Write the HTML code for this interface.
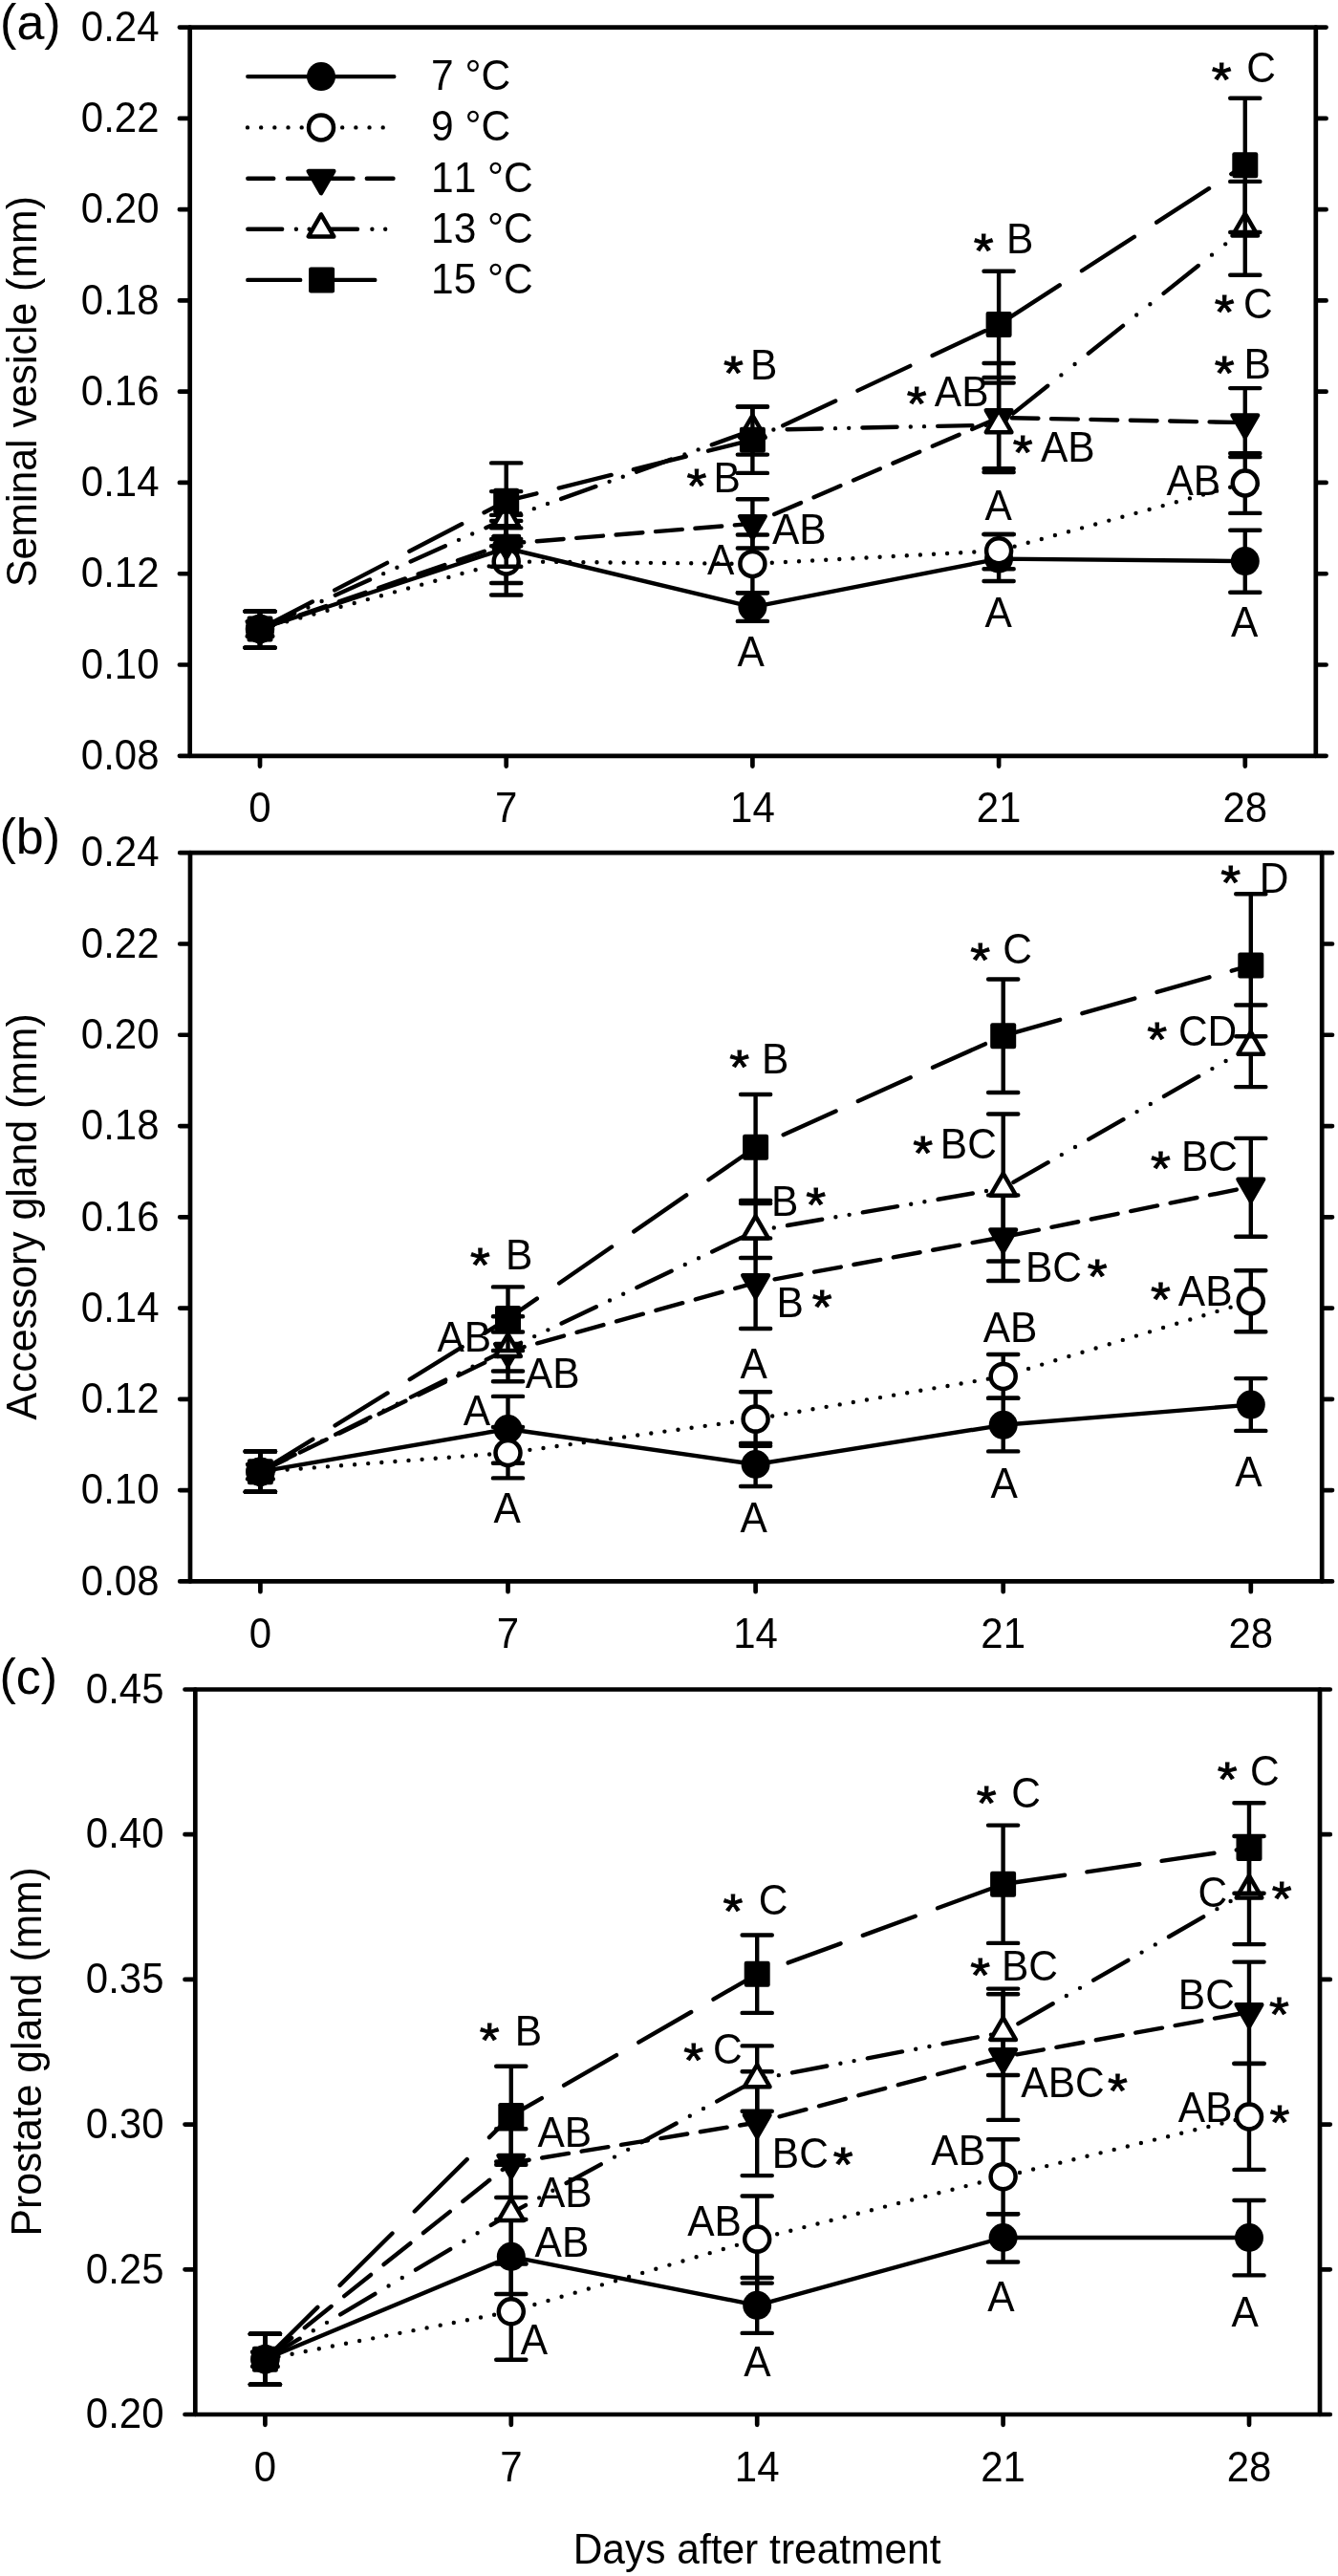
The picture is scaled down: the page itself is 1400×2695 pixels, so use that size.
<!DOCTYPE html>
<html><head><meta charset="utf-8"><title>Chart</title>
<style>html,body{margin:0;padding:0;background:#fff}svg{display:block;will-change:transform}text{font-family:"Liberation Sans",sans-serif;fill:#000;font-kerning:none;font-variant-ligatures:none}</style>
</head><body>
<svg width="1400" height="2695" viewBox="0 0 1400 2695">
<rect width="1400" height="2695" fill="#fff"/>
<g fill="none" stroke="#000" stroke-width="4.7" stroke-linecap="round">
<path d="M198.7 28.6V790.8M1376.8 28.6V790.8"/>
<path d="M187.9 28.6H1387.6M187.9 123.88H197.7M1377.8 123.88H1387.6M187.9 219.15H197.7M1377.8 219.15H1387.6M187.9 314.43H197.7M1377.8 314.43H1387.6M187.9 409.7H197.7M1377.8 409.7H1387.6M187.9 504.97H197.7M1377.8 504.97H1387.6M187.9 600.25H197.7M1377.8 600.25H1387.6M187.9 695.52H197.7M1377.8 695.52H1387.6M187.9 790.8H1387.6M272 791.8V801.6M529.7 791.8V801.6M787.4 791.8V801.6M1045.1 791.8V801.6M1302.8 791.8V801.6"/>
</g>
<text transform="translate(166.5,42.8) scale(1,1.045)" font-size="42" text-anchor="end">0.24</text>
<text transform="translate(166.5,138.07) scale(1,1.045)" font-size="42" text-anchor="end">0.22</text>
<text transform="translate(166.5,233.35) scale(1,1.045)" font-size="42" text-anchor="end">0.20</text>
<text transform="translate(166.5,328.62) scale(1,1.045)" font-size="42" text-anchor="end">0.18</text>
<text transform="translate(166.5,423.9) scale(1,1.045)" font-size="42" text-anchor="end">0.16</text>
<text transform="translate(166.5,519.17) scale(1,1.045)" font-size="42" text-anchor="end">0.14</text>
<text transform="translate(166.5,614.45) scale(1,1.045)" font-size="42" text-anchor="end">0.12</text>
<text transform="translate(166.5,709.73) scale(1,1.045)" font-size="42" text-anchor="end">0.10</text>
<text transform="translate(166.5,805) scale(1,1.045)" font-size="42" text-anchor="end">0.08</text>
<text transform="translate(272,860.4) scale(1,1.045)" font-size="42" text-anchor="middle">0</text>
<text transform="translate(529.7,860.4) scale(1,1.045)" font-size="42" text-anchor="middle">7</text>
<text transform="translate(787.4,860.4) scale(1,1.045)" font-size="42" text-anchor="middle">14</text>
<text transform="translate(1045.1,860.4) scale(1,1.045)" font-size="42" text-anchor="middle">21</text>
<text transform="translate(1302.8,860.4) scale(1,1.045)" font-size="42" text-anchor="middle">28</text>
<text transform="translate(38.4,409.6) rotate(-90) scale(1,1.04)" font-size="42.8" text-anchor="middle">Seminal vesicle (mm)</text>
<text transform="translate(0.1,41.1) scale(1,1)" font-size="52" text-anchor="start">(a)</text>
<path fill="none" stroke="#000" stroke-width="4.4" stroke-linecap="round" stroke-linejoin="round" d="M272 658L529.7 573.5L787.4 635.1L1045.1 584.6L1302.8 587.1"/>
<path fill="none" stroke="#000" stroke-width="4.4" stroke-linecap="round" d="M272 639.6V677.6M256.4 639.6H287.6M256.4 677.6H287.6M529.7 538.9V610M514.1 538.9H545.3M514.1 610H545.3M787.4 620.3V649.9M771.8 620.3H803M771.8 649.9H803M1045.1 559V608M1029.5 559H1060.7M1029.5 608H1060.7M1302.8 554.8V619.8M1287.2 554.8H1318.4M1287.2 619.8H1318.4"/>
<circle cx="272" cy="658" r="15"/>
<circle cx="529.7" cy="573.5" r="15"/>
<circle cx="787.4" cy="635.1" r="15"/>
<circle cx="1045.1" cy="584.6" r="15"/>
<circle cx="1302.8" cy="587.1" r="15"/>
<path fill="none" stroke="#000" stroke-width="4.4" stroke-linecap="round" stroke-linejoin="round" d="M272 658h0M286.1 654.14h0M300.2 650.27h0M314.3 646.41h0M328.4 642.55h0M342.5 638.69h0M356.6 634.82h0M370.7 630.96h0M384.8 627.1h0M398.9 623.23h0M413 619.37h0M427.1 615.51h0M441.2 611.65h0M455.3 607.78h0M469.4 603.92h0M483.5 600.06h0M497.6 596.19h0M511.7 592.33h0M525.8 588.47h0M539.9 587.5h0M554 587.64h0M568.1 587.77h0M582.2 587.91h0M596.3 588.05h0M610.4 588.18h0M624.5 588.32h0M638.6 588.46h0M652.7 588.59h0M666.8 588.73h0M680.9 588.87h0M695 589h0M709.1 589.14h0M723.2 589.28h0M737.3 589.41h0M751.4 589.55h0M765.5 589.69h0M779.6 589.82h0M793.7 589.57h0M807.8 588.82h0M821.9 588.07h0M836 587.32h0M850.1 586.57h0M864.2 585.82h0M878.3 585.07h0M892.4 584.32h0M906.5 583.57h0M920.6 582.82h0M934.7 582.07h0M948.8 581.32h0M962.9 580.57h0M977 579.82h0M991.1 579.07h0M1005.2 578.32h0M1019.3 577.57h0M1033.4 576.82h0M1047.5 575.54h0M1061.6 571.67h0M1075.7 567.8h0M1089.8 563.94h0M1103.9 560.07h0M1118 556.2h0M1132.1 552.33h0M1146.2 548.46h0M1160.3 544.59h0M1174.4 540.73h0M1188.5 536.86h0M1202.6 532.99h0M1216.7 529.12h0M1230.8 525.25h0M1244.9 521.38h0M1259 517.52h0M1273.1 513.65h0M1287.2 509.78h0M1301.3 505.91h0"/>
<path fill="none" stroke="#000" stroke-width="4.4" stroke-linecap="round" d="M272 639.6V677.6M256.4 639.6H287.6M256.4 677.6H287.6M529.7 552.4V622.5M514.1 552.4H545.3M514.1 622.5H545.3M787.4 559.5V620.3M771.8 559.5H803M771.8 620.3H803M1045.1 559V595.3M1029.5 559H1060.7M1029.5 595.3H1060.7M1302.8 474.2V536.9M1287.2 474.2H1318.4M1287.2 536.9H1318.4"/>
<circle cx="272" cy="658" r="13" fill="#fff" stroke="#000" stroke-width="4.5"/>
<circle cx="529.7" cy="587.4" r="13" fill="#fff" stroke="#000" stroke-width="4.5"/>
<circle cx="787.4" cy="589.9" r="13" fill="#fff" stroke="#000" stroke-width="4.5"/>
<circle cx="1045.1" cy="576.2" r="13" fill="#fff" stroke="#000" stroke-width="4.5"/>
<circle cx="1302.8" cy="505.5" r="13" fill="#fff" stroke="#000" stroke-width="4.5"/>
<path fill="none" stroke="#000" stroke-width="4.4" stroke-linecap="round" stroke-linejoin="round" d="M272 658L299.8 648.38M313.4 643.67L341.2 634.05M354.8 629.34L382.6 619.72M396.2 615.01L424 605.39M437.6 600.68L465.4 591.06M479 586.35L506.8 576.73M520.4 572.02L529.7 568.8L548.2 567.3M561.8 566.2L589.6 563.94M603.2 562.84L631 560.58M644.6 559.48L672.4 557.23M686 556.12L713.8 553.87M727.4 552.77L755.2 550.51M768.8 549.41L787.4 547.9L796.6 543.94M810.2 538.09L838 526.12M851.6 520.27L879.4 508.31M893 502.46L920.8 490.49M934.4 484.64L962.2 472.68M975.8 466.82L1003.6 454.86M1017.2 449.01L1045 437.04M1058.6 437.27L1086.4 437.82M1100 438.09L1127.8 438.64M1141.4 438.91L1169.2 439.46M1182.8 439.73L1210.6 440.28M1224.2 440.54L1252 441.09M1265.6 441.36L1293.4 441.91"/>
<path fill="none" stroke="#000" stroke-width="4.4" stroke-linecap="round" d="M272 639.6V677.6M256.4 639.6H287.6M256.4 677.6H287.6M529.7 544.9V592.7M514.1 544.9H545.3M514.1 592.7H545.3M787.4 522.2V573.5M771.8 522.2H803M771.8 573.5H803M1045.1 380V494M1029.5 380H1060.7M1029.5 494H1060.7M1302.8 406.1V478.1M1287.2 406.1H1318.4M1287.2 478.1H1318.4"/>
<path d="M258.7 650.32H285.3L272 673.36Z" stroke="#000" stroke-width="4.5" stroke-linejoin="round"/>
<path d="M516.4 561.12H543L529.7 584.16Z" stroke="#000" stroke-width="4.5" stroke-linejoin="round"/>
<path d="M774.1 540.22H800.7L787.4 563.26Z" stroke="#000" stroke-width="4.5" stroke-linejoin="round"/>
<path d="M1031.8 429.32H1058.4L1045.1 452.36Z" stroke="#000" stroke-width="4.5" stroke-linejoin="round"/>
<path d="M1289.5 434.42H1316.1L1302.8 457.46Z" stroke="#000" stroke-width="4.5" stroke-linejoin="round"/>
<path fill="none" stroke="#000" stroke-width="4.4" stroke-linecap="round" stroke-linejoin="round" d="M272 658L308.2 641.79M322.4 635.43h0M336.6 629.07h0M350.8 622.71L387 606.5M401.2 600.14h0M415.4 593.78h0M429.6 587.43L465.8 571.21M480 564.86h0M494.2 558.5h0M508.4 552.14L529.7 542.6L544.6 537.25M558.8 532.14h0M573 527.04h0M587.2 521.94L623.4 508.93M637.6 503.83h0M651.8 498.73h0M666 493.62L702.2 480.62M716.4 475.51h0M730.6 470.41h0M744.8 465.31L781 452.3M795.2 449.83h0M809.4 449.53h0M823.6 449.23L859.8 448.45M874 448.15h0M888.2 447.85h0M902.4 447.55L938.6 446.77M952.8 446.47h0M967 446.17h0M981.2 445.86L1017.4 445.09M1031.6 444.79h0M1045.8 443.94h0M1060 432.61L1096.2 403.73M1110.4 392.4h0M1124.6 381.07h0M1138.8 369.74L1175 340.86M1189.2 329.53h0M1203.4 318.2h0M1217.6 306.87L1253.8 277.99M1268 266.66h0M1282.2 255.34h0M1296.4 244.01L1302.8 238.9"/>
<path fill="none" stroke="#000" stroke-width="4.4" stroke-linecap="round" d="M272 639.6V677.6M256.4 639.6H287.6M256.4 677.6H287.6M529.7 514.1V571.2M514.1 514.1H545.3M514.1 571.2H545.3M787.4 425.5V475.6M771.8 425.5H803M771.8 475.6H803M1045.1 400.6V490.3M1029.5 400.6H1060.7M1029.5 490.3H1060.7M1302.8 189.9V287.8M1287.2 189.9H1318.4M1287.2 287.8H1318.4"/>
<path d="M258.7 665.68H285.3L272 642.64Z" fill="#fff" stroke="#000" stroke-width="4.5" stroke-linejoin="round"/>
<path d="M516.4 550.28H543L529.7 527.24Z" fill="#fff" stroke="#000" stroke-width="4.5" stroke-linejoin="round"/>
<path d="M774.1 457.68H800.7L787.4 434.64Z" fill="#fff" stroke="#000" stroke-width="4.5" stroke-linejoin="round"/>
<path d="M1031.8 452.18H1058.4L1045.1 429.14Z" fill="#fff" stroke="#000" stroke-width="4.5" stroke-linejoin="round"/>
<path d="M1289.5 246.58H1316.1L1302.8 223.54Z" fill="#fff" stroke="#000" stroke-width="4.5" stroke-linejoin="round"/>
<path fill="none" stroke="#000" stroke-width="4.4" stroke-linecap="round" stroke-linejoin="round" d="M272 658L326.9 629.5M350.18 617.41L405.08 588.9M428.36 576.82L483.26 548.31M506.54 536.22L529.7 524.2L561.44 516.32M584.72 510.54L639.62 496.9M662.9 491.12L717.8 477.49M741.08 471.7L787.4 460.2L795.98 456.18M819.26 445.27L874.16 419.53M897.44 408.62L952.34 382.88M975.62 371.97L1030.52 346.23M1053.8 333.78L1108.7 298.28M1131.98 283.23L1186.88 247.74M1210.16 232.69L1265.06 197.2M1288.34 182.15L1302.8 172.8"/>
<path fill="none" stroke="#000" stroke-width="4.4" stroke-linecap="round" d="M272 639.6V677.6M256.4 639.6H287.6M256.4 677.6H287.6M529.7 484.4V564M514.1 484.4H545.3M514.1 564H545.3M787.4 425.5V494.9M771.8 425.5H803M771.8 494.9H803M1045.1 283.8V395M1029.5 283.8H1060.7M1029.5 395H1060.7M1302.8 102.8V243M1287.2 102.8H1318.4M1287.2 243H1318.4"/>
<rect x="258.5" y="644.5" width="27" height="27" rx="2.2"/>
<rect x="516.2" y="510.7" width="27" height="27" rx="2.2"/>
<rect x="773.9" y="446.7" width="27" height="27" rx="2.2"/>
<rect x="1031.6" y="325.9" width="27" height="27" rx="2.2"/>
<rect x="1289.3" y="159.3" width="27" height="27" rx="2.2"/>
<text transform="translate(756.94,407.98) scale(1,0.916)" font-size="53.6" stroke="#000" stroke-width="1.0" stroke-linejoin="miter">*</text>
<text transform="translate(785.01,396.7) scale(1,1.04)" font-size="42.5" text-anchor="start">B</text>
<text transform="translate(718.44,526.48) scale(1,0.916)" font-size="53.6" stroke="#000" stroke-width="1.0" stroke-linejoin="miter">*</text>
<text transform="translate(746.51,515) scale(1,1.04)" font-size="42.5" text-anchor="start">B</text>
<text transform="translate(807.91,569.4) scale(1,1.04)" font-size="42.5" text-anchor="start">AB</text>
<text transform="translate(739.91,600.6) scale(1,1.04)" font-size="42.5" text-anchor="start">A</text>
<text transform="translate(771.62,697.1) scale(1,1.04)" font-size="42.5" text-anchor="start">A</text>
<text transform="translate(1018.64,279.78) scale(1,0.916)" font-size="53.6" stroke="#000" stroke-width="1.0" stroke-linejoin="miter">*</text>
<text transform="translate(1052.92,265.1) scale(1,1.04)" font-size="42.5" text-anchor="start">B</text>
<text transform="translate(948.64,439.68) scale(1,0.916)" font-size="53.6" stroke="#000" stroke-width="1.0" stroke-linejoin="miter">*</text>
<text transform="translate(977.81,424.9) scale(1,1.04)" font-size="42.5" text-anchor="start">AB</text>
<text transform="translate(1059.74,490.88) scale(1,0.916)" font-size="53.6" stroke="#000" stroke-width="1.0" stroke-linejoin="miter">*</text>
<text transform="translate(1089.01,482.8) scale(1,1.04)" font-size="42.5" text-anchor="start">AB</text>
<text transform="translate(1030.51,543.5) scale(1,1.04)" font-size="42.5" text-anchor="start">A</text>
<text transform="translate(1030.51,655.6) scale(1,1.04)" font-size="42.5" text-anchor="start">A</text>
<text transform="translate(1267.64,101.18) scale(1,0.916)" font-size="53.6" stroke="#000" stroke-width="1.0" stroke-linejoin="miter">*</text>
<text transform="translate(1304.24,86) scale(1,1.04)" font-size="42.5" text-anchor="start">C</text>
<text transform="translate(1270.64,344.08) scale(1,0.916)" font-size="53.6" stroke="#000" stroke-width="1.0" stroke-linejoin="miter">*</text>
<text transform="translate(1300.94,333) scale(1,1.04)" font-size="42.5" text-anchor="start">C</text>
<text transform="translate(1270.84,408.48) scale(1,0.916)" font-size="53.6" stroke="#000" stroke-width="1.0" stroke-linejoin="miter">*</text>
<text transform="translate(1301.42,396) scale(1,1.04)" font-size="42.5" text-anchor="start">B</text>
<text transform="translate(1220.41,518) scale(1,1.04)" font-size="42.5" text-anchor="start">AB</text>
<text transform="translate(1288.12,665.7) scale(1,1.04)" font-size="42.5" text-anchor="start">A</text>
<path fill="none" stroke="#000" stroke-width="4.4" stroke-linecap="round" d="M259.3 80.1H412.3"/>
<path fill="none" stroke="#000" stroke-width="4.4" stroke-linecap="round" stroke-dasharray="0 14.17" d="M259 133.4H402"/>
<path fill="none" stroke="#000" stroke-width="4.4" stroke-linecap="round" d="M259.3 186.8H286.3M301 186.8H369.5M383.8 186.8H411.5"/>
<path fill="none" stroke="#000" stroke-width="4.4" stroke-linecap="round" d="M259.3 239.7H295.2M309.9 239.7h0M323.6 239.7h0M337.6 239.7H374M389.4 239.7h0M403.2 239.7h0"/>
<path fill="none" stroke="#000" stroke-width="4.4" stroke-linecap="round" d="M259.3 292.9H314.2M337.3 292.9H392.3"/>
<circle cx="336" cy="80.1" r="15"/>
<circle cx="336" cy="133.4" r="13" fill="#fff" stroke="#000" stroke-width="4.5"/>
<path d="M322.7 179.12H349.3L336 202.16Z" stroke="#000" stroke-width="4.5" stroke-linejoin="round"/>
<path d="M322.7 247.38H349.3L336 224.34Z" fill="#fff" stroke="#000" stroke-width="4.5" stroke-linejoin="round"/>
<rect x="323.1" y="279.4" width="27" height="27" rx="2.2"/>
<text transform="translate(451,94.1) scale(1,1.04)" font-size="42.5" text-anchor="start">7 °C</text>
<text transform="translate(451,147.3) scale(1,1.04)" font-size="42.5" text-anchor="start">9 °C</text>
<text transform="translate(451,200.7) scale(1,1.04)" font-size="42.5" text-anchor="start">11 °C</text>
<text transform="translate(451,254) scale(1,1.04)" font-size="42.5" text-anchor="start">13 °C</text>
<text transform="translate(451,307.4) scale(1,1.04)" font-size="42.5" text-anchor="start">15 °C</text>
<g fill="none" stroke="#000" stroke-width="4.7" stroke-linecap="round">
<path d="M199 892.2V1654.4M1383.2 892.2V1654.4"/>
<path d="M188.2 892.2H1394M188.2 987.48H198M1384.2 987.48H1394M188.2 1082.75H198M1384.2 1082.75H1394M188.2 1178.03H198M1384.2 1178.03H1394M188.2 1273.3H198M1384.2 1273.3H1394M188.2 1368.58H198M1384.2 1368.58H1394M188.2 1463.85H198M1384.2 1463.85H1394M188.2 1559.12H198M1384.2 1559.12H1394M188.2 1654.4H1394M272.4 1655.4V1665.2M531.5 1655.4V1665.2M790.6 1655.4V1665.2M1049.7 1655.4V1665.2M1308.8 1655.4V1665.2"/>
</g>
<text transform="translate(166.5,906.4) scale(1,1.045)" font-size="42" text-anchor="end">0.24</text>
<text transform="translate(166.5,1001.68) scale(1,1.045)" font-size="42" text-anchor="end">0.22</text>
<text transform="translate(166.5,1096.95) scale(1,1.045)" font-size="42" text-anchor="end">0.20</text>
<text transform="translate(166.5,1192.23) scale(1,1.045)" font-size="42" text-anchor="end">0.18</text>
<text transform="translate(166.5,1287.5) scale(1,1.045)" font-size="42" text-anchor="end">0.16</text>
<text transform="translate(166.5,1382.78) scale(1,1.045)" font-size="42" text-anchor="end">0.14</text>
<text transform="translate(166.5,1478.05) scale(1,1.045)" font-size="42" text-anchor="end">0.12</text>
<text transform="translate(166.5,1573.33) scale(1,1.045)" font-size="42" text-anchor="end">0.10</text>
<text transform="translate(166.5,1668.6) scale(1,1.045)" font-size="42" text-anchor="end">0.08</text>
<text transform="translate(272.4,1724) scale(1,1.045)" font-size="42" text-anchor="middle">0</text>
<text transform="translate(531.5,1724) scale(1,1.045)" font-size="42" text-anchor="middle">7</text>
<text transform="translate(790.6,1724) scale(1,1.045)" font-size="42" text-anchor="middle">14</text>
<text transform="translate(1049.7,1724) scale(1,1.045)" font-size="42" text-anchor="middle">21</text>
<text transform="translate(1308.8,1724) scale(1,1.045)" font-size="42" text-anchor="middle">28</text>
<text transform="translate(38.4,1272.9) rotate(-90) scale(1,1.04)" font-size="42.75" text-anchor="middle">Accessory gland (mm)</text>
<text transform="translate(-0.5,893.2) scale(1,1)" font-size="52" text-anchor="start">(b)</text>
<path fill="none" stroke="#000" stroke-width="4.4" stroke-linecap="round" stroke-linejoin="round" d="M272.4 1539.7L531.5 1495L790.6 1532L1049.7 1490.8L1308.8 1469.6"/>
<path fill="none" stroke="#000" stroke-width="4.4" stroke-linecap="round" d="M272.4 1518.4V1560.8M256.8 1518.4H288M256.8 1560.8H288M531.5 1460.9V1530.7M515.9 1460.9H547.1M515.9 1530.7H547.1M790.6 1510V1555M775 1510H806.2M775 1555H806.2M1049.7 1462.8V1518.4M1034.1 1462.8H1065.3M1034.1 1518.4H1065.3M1308.8 1442.1V1496.9M1293.2 1442.1H1324.4M1293.2 1496.9H1324.4"/>
<circle cx="272.4" cy="1539.7" r="15"/>
<circle cx="531.5" cy="1495" r="15"/>
<circle cx="790.6" cy="1532" r="15"/>
<circle cx="1049.7" cy="1490.8" r="15"/>
<circle cx="1308.8" cy="1469.6" r="15"/>
<path fill="none" stroke="#000" stroke-width="4.4" stroke-linecap="round" stroke-linejoin="round" d="M272.4 1539.7h0M286.5 1538.63h0M300.6 1537.56h0M314.7 1536.48h0M328.8 1535.41h0M342.9 1534.34h0M357 1533.27h0M371.1 1532.2h0M385.2 1531.12h0M399.3 1530.05h0M413.4 1528.98h0M427.5 1527.91h0M441.6 1526.84h0M455.7 1525.76h0M469.8 1524.69h0M483.9 1523.62h0M498 1522.55h0M512.1 1521.48h0M526.2 1520.4h0M540.3 1518.8h0M554.4 1516.87h0M568.5 1514.94h0M582.6 1513.02h0M596.7 1511.09h0M610.8 1509.17h0M624.9 1507.24h0M639 1505.31h0M653.1 1503.39h0M667.2 1501.46h0M681.3 1499.53h0M695.4 1497.61h0M709.5 1495.68h0M723.6 1493.75h0M737.7 1491.83h0M751.8 1489.9h0M765.9 1487.97h0M780 1486.05h0M794.1 1484h0M808.2 1481.56h0M822.3 1479.13h0M836.4 1476.7h0M850.5 1474.27h0M864.6 1471.83h0M878.7 1469.4h0M892.8 1466.97h0M906.9 1464.54h0M921 1462.1h0M935.1 1459.67h0M949.2 1457.24h0M963.3 1454.81h0M977.4 1452.37h0M991.5 1449.94h0M1005.6 1447.51h0M1019.7 1445.08h0M1033.8 1442.64h0M1047.9 1440.21h0M1062 1436.16h0M1076.1 1431.88h0M1090.2 1427.6h0M1104.3 1423.32h0M1118.4 1419.03h0M1132.5 1414.75h0M1146.6 1410.47h0M1160.7 1406.18h0M1174.8 1401.9h0M1188.9 1397.62h0M1203 1393.34h0M1217.1 1389.05h0M1231.2 1384.77h0M1245.3 1380.49h0M1259.4 1376.2h0M1273.5 1371.92h0M1287.6 1367.64h0M1301.7 1363.36h0"/>
<path fill="none" stroke="#000" stroke-width="4.4" stroke-linecap="round" d="M272.4 1518.4V1560.8M256.8 1518.4H288M256.8 1560.8H288M531.5 1492.9V1546.4M515.9 1492.9H547.1M515.9 1546.4H547.1M790.6 1456.3V1512.7M775 1456.3H806.2M775 1512.7H806.2M1049.7 1417V1462.8M1034.1 1417H1065.3M1034.1 1462.8H1065.3M1308.8 1329.2V1393.3M1293.2 1329.2H1324.4M1293.2 1393.3H1324.4"/>
<circle cx="272.4" cy="1539.7" r="13" fill="#fff" stroke="#000" stroke-width="4.5"/>
<circle cx="531.5" cy="1520" r="13" fill="#fff" stroke="#000" stroke-width="4.5"/>
<circle cx="790.6" cy="1484.6" r="13" fill="#fff" stroke="#000" stroke-width="4.5"/>
<circle cx="1049.7" cy="1439.9" r="13" fill="#fff" stroke="#000" stroke-width="4.5"/>
<circle cx="1308.8" cy="1361.2" r="13" fill="#fff" stroke="#000" stroke-width="4.5"/>
<path fill="none" stroke="#000" stroke-width="4.4" stroke-linecap="round" stroke-linejoin="round" d="M272.4 1539.7L300.2 1526.19M313.8 1519.58L341.6 1506.07M355.2 1499.47L383 1485.96M396.6 1479.35L424.4 1465.84M438 1459.23L465.8 1445.72M479.4 1439.12L507.2 1425.61M520.8 1419L531.5 1413.8L548.6 1409.06M562.2 1405.29L590 1397.59M603.6 1393.82L631.4 1386.12M645 1382.35L672.8 1374.64M686.4 1370.88L714.2 1363.17M727.8 1359.4L755.6 1351.7M769.2 1347.93L790.6 1342L797 1340.82M810.6 1338.31L838.4 1333.18M852 1330.67L879.8 1325.54M893.4 1323.03L921.2 1317.91M934.8 1315.4L962.6 1310.27M976.2 1307.76L1004 1302.63M1017.6 1300.12L1045.4 1294.99M1059 1292.31L1086.8 1286.65M1100.4 1283.89L1128.2 1278.23M1141.8 1275.47L1169.6 1269.81M1183.2 1267.05L1211 1261.39M1224.6 1258.63L1252.4 1252.97M1266 1250.21L1293.8 1244.55M1307.4 1241.78L1308.8 1241.5"/>
<path fill="none" stroke="#000" stroke-width="4.4" stroke-linecap="round" d="M272.4 1518.4V1560.8M256.8 1518.4H288M256.8 1560.8H288M531.5 1393.5V1434.5M515.9 1393.5H547.1M515.9 1434.5H547.1M790.6 1295.4V1390M775 1295.4H806.2M775 1390H806.2M1049.7 1250.4V1340M1034.1 1250.4H1065.3M1034.1 1340H1065.3M1308.8 1190.9V1293.8M1293.2 1190.9H1324.4M1293.2 1293.8H1324.4"/>
<path d="M259.1 1532.02H285.7L272.4 1555.06Z" stroke="#000" stroke-width="4.5" stroke-linejoin="round"/>
<path d="M518.2 1406.12H544.8L531.5 1429.16Z" stroke="#000" stroke-width="4.5" stroke-linejoin="round"/>
<path d="M777.3 1334.32H803.9L790.6 1357.36Z" stroke="#000" stroke-width="4.5" stroke-linejoin="round"/>
<path d="M1036.4 1286.52H1063L1049.7 1309.56Z" stroke="#000" stroke-width="4.5" stroke-linejoin="round"/>
<path d="M1295.5 1233.82H1322.1L1308.8 1256.86Z" stroke="#000" stroke-width="4.5" stroke-linejoin="round"/>
<path fill="none" stroke="#000" stroke-width="4.4" stroke-linecap="round" stroke-linejoin="round" d="M272.4 1539.7L308.6 1521.76M322.8 1514.72h0M337 1507.69h0M351.2 1500.65L387.4 1482.71M401.6 1475.67h0M415.8 1468.64h0M430 1461.6L466.2 1443.66M480.4 1436.62h0M494.6 1429.59h0M508.8 1422.55L531.5 1411.3L545 1404.87M559.2 1398.1h0M573.4 1391.33h0M587.6 1384.56L623.8 1367.31M638 1360.54h0M652.2 1353.77h0M666.4 1347L702.6 1329.75M716.8 1322.98h0M731 1316.21h0M745.2 1309.44L781.4 1292.19M795.6 1286.94h0M809.8 1284.48h0M824 1282.02L860.2 1275.77M874.4 1273.31h0M888.6 1270.86h0M902.8 1268.4L939 1262.14M953.2 1259.69h0M967.4 1257.23h0M981.6 1254.77L1017.8 1248.52M1032 1246.06h0M1046.2 1243.61h0M1060.4 1236.89L1096.6 1216.21M1110.8 1208.1h0M1125 1199.99h0M1139.2 1191.88L1175.4 1171.2M1189.6 1163.09h0M1203.8 1154.98h0M1218 1146.87L1254.2 1126.19M1268.4 1118.08h0M1282.6 1109.97h0M1296.8 1101.85L1308.8 1095"/>
<path fill="none" stroke="#000" stroke-width="4.4" stroke-linecap="round" d="M272.4 1518.4V1560.8M256.8 1518.4H288M256.8 1560.8H288M531.5 1377.3V1445.2M515.9 1377.3H547.1M515.9 1445.2H547.1M790.6 1259V1316M775 1259H806.2M775 1316H806.2M1049.7 1165.5V1319.5M1034.1 1165.5H1065.3M1034.1 1319.5H1065.3M1308.8 1051.5V1137.1M1293.2 1051.5H1324.4M1293.2 1137.1H1324.4"/>
<path d="M259.1 1547.38H285.7L272.4 1524.34Z" fill="#fff" stroke="#000" stroke-width="4.5" stroke-linejoin="round"/>
<path d="M518.2 1418.98H544.8L531.5 1395.94Z" fill="#fff" stroke="#000" stroke-width="4.5" stroke-linejoin="round"/>
<path d="M777.3 1295.48H803.9L790.6 1272.44Z" fill="#fff" stroke="#000" stroke-width="4.5" stroke-linejoin="round"/>
<path d="M1036.4 1250.68H1063L1049.7 1227.64Z" fill="#fff" stroke="#000" stroke-width="4.5" stroke-linejoin="round"/>
<path d="M1295.5 1102.68H1322.1L1308.8 1079.64Z" fill="#fff" stroke="#000" stroke-width="4.5" stroke-linejoin="round"/>
<path fill="none" stroke="#000" stroke-width="4.4" stroke-linecap="round" stroke-linejoin="round" d="M272.4 1539.7L327.3 1505.78M350.58 1491.39L405.48 1457.47M428.76 1443.08L483.66 1409.16M506.94 1394.78L531.5 1379.6L561.84 1358.6M585.12 1342.49L640.02 1304.5M663.3 1288.39L718.2 1250.4M741.48 1234.29L790.6 1200.3L796.38 1197.7M819.66 1187.22L874.56 1162.52M897.84 1152.04L952.74 1127.33M976.02 1116.86L1030.92 1092.15M1054.2 1082.42L1109.1 1066.8M1132.38 1060.18L1187.28 1044.57M1210.56 1037.94L1265.46 1022.33M1288.74 1015.71L1308.8 1010"/>
<path fill="none" stroke="#000" stroke-width="4.4" stroke-linecap="round" d="M272.4 1518.4V1560.8M256.8 1518.4H288M256.8 1560.8H288M531.5 1346.4V1413M515.9 1346.4H547.1M515.9 1413H547.1M790.6 1145V1256M775 1145H806.2M775 1256H806.2M1049.7 1024.5V1143M1034.1 1024.5H1065.3M1034.1 1143H1065.3M1308.8 935.2V1084.3M1293.2 935.2H1324.4M1293.2 1084.3H1324.4"/>
<rect x="258.9" y="1526.2" width="27" height="27" rx="2.2"/>
<rect x="518" y="1366.1" width="27" height="27" rx="2.2"/>
<rect x="777.1" y="1186.8" width="27" height="27" rx="2.2"/>
<rect x="1036.2" y="1070.2" width="27" height="27" rx="2.2"/>
<rect x="1295.3" y="996.5" width="27" height="27" rx="2.2"/>
<text transform="translate(491.94,1340.78) scale(1,0.916)" font-size="53.6" stroke="#000" stroke-width="1.0" stroke-linejoin="miter">*</text>
<text transform="translate(529.12,1327.7) scale(1,1.04)" font-size="42.5" text-anchor="start">B</text>
<text transform="translate(457.42,1413.5) scale(1,1.04)" font-size="42.5" text-anchor="start">AB</text>
<text transform="translate(549.81,1451.8) scale(1,1.04)" font-size="42.5" text-anchor="start">AB</text>
<text transform="translate(484.81,1490.5) scale(1,1.04)" font-size="42.5" text-anchor="start">A</text>
<text transform="translate(516.62,1593.2) scale(1,1.04)" font-size="42.5" text-anchor="start">A</text>
<text transform="translate(763.24,1133.68) scale(1,0.916)" font-size="53.6" stroke="#000" stroke-width="1.0" stroke-linejoin="miter">*</text>
<text transform="translate(797.12,1122.6) scale(1,1.04)" font-size="42.5" text-anchor="start">B</text>
<text transform="translate(806.91,1272.1) scale(1,1.04)" font-size="42.5" text-anchor="start">B</text>
<text transform="translate(843.24,1278.28) scale(1,0.916)" font-size="53.6" stroke="#000" stroke-width="1.0" stroke-linejoin="miter">*</text>
<text transform="translate(812.62,1378.1) scale(1,1.04)" font-size="42.5" text-anchor="start">B</text>
<text transform="translate(849.84,1384.98) scale(1,0.916)" font-size="53.6" stroke="#000" stroke-width="1.0" stroke-linejoin="miter">*</text>
<text transform="translate(774.41,1442.3) scale(1,1.04)" font-size="42.5" text-anchor="start">A</text>
<text transform="translate(774.41,1602.7) scale(1,1.04)" font-size="42.5" text-anchor="start">A</text>
<text transform="translate(1015.34,1021.88) scale(1,0.916)" font-size="53.6" stroke="#000" stroke-width="1.0" stroke-linejoin="miter">*</text>
<text transform="translate(1049.24,1007.8) scale(1,1.04)" font-size="42.5" text-anchor="start">C</text>
<text transform="translate(955.24,1223.68) scale(1,0.916)" font-size="53.6" stroke="#000" stroke-width="1.0" stroke-linejoin="miter">*</text>
<text transform="translate(983.81,1212.4) scale(1,1.04)" font-size="42.5" text-anchor="start">BC</text>
<text transform="translate(1073.02,1340.8) scale(1,1.04)" font-size="42.5" text-anchor="start">BC</text>
<text transform="translate(1137.74,1352.88) scale(1,0.916)" font-size="53.6" stroke="#000" stroke-width="1.0" stroke-linejoin="miter">*</text>
<text transform="translate(1028.71,1403.8) scale(1,1.04)" font-size="42.5" text-anchor="start">AB</text>
<text transform="translate(1036.41,1566.7) scale(1,1.04)" font-size="42.5" text-anchor="start">A</text>
<text transform="translate(1277.24,941.48) scale(1,0.916)" font-size="53.6" stroke="#000" stroke-width="1.0" stroke-linejoin="miter">*</text>
<text transform="translate(1317.72,934.4) scale(1,1.04)" font-size="42.5" text-anchor="start">D</text>
<text transform="translate(1200.24,1104.98) scale(1,0.916)" font-size="53.6" stroke="#000" stroke-width="1.0" stroke-linejoin="miter">*</text>
<text transform="translate(1232.94,1093.9) scale(1,1.04)" font-size="42.5" text-anchor="start">CD</text>
<text transform="translate(1203.94,1239.78) scale(1,0.916)" font-size="53.6" stroke="#000" stroke-width="1.0" stroke-linejoin="miter">*</text>
<text transform="translate(1236.02,1225.1) scale(1,1.04)" font-size="42.5" text-anchor="start">BC</text>
<text transform="translate(1203.94,1376.88) scale(1,0.916)" font-size="53.6" stroke="#000" stroke-width="1.0" stroke-linejoin="miter">*</text>
<text transform="translate(1232.82,1365.7) scale(1,1.04)" font-size="42.5" text-anchor="start">AB</text>
<text transform="translate(1292.32,1554.7) scale(1,1.04)" font-size="42.5" text-anchor="start">A</text>
<g fill="none" stroke="#000" stroke-width="4.7" stroke-linecap="round">
<path d="M204.3 1767.5V2526M1381 1767.5V2526"/>
<path d="M193.5 1767.5H1391.8M193.5 1919.2H203.3M1382 1919.2H1391.8M193.5 2070.9H203.3M1382 2070.9H1391.8M193.5 2222.6H203.3M1382 2222.6H1391.8M193.5 2374.3H203.3M1382 2374.3H1391.8M193.5 2526H1391.8M277.4 2527V2536.8M534.8 2527V2536.8M792.2 2527V2536.8M1049.6 2527V2536.8M1307 2527V2536.8"/>
</g>
<text transform="translate(171.5,1781.7) scale(1,1.045)" font-size="42" text-anchor="end">0.45</text>
<text transform="translate(171.5,1933.4) scale(1,1.045)" font-size="42" text-anchor="end">0.40</text>
<text transform="translate(171.5,2085.1) scale(1,1.045)" font-size="42" text-anchor="end">0.35</text>
<text transform="translate(171.5,2236.8) scale(1,1.045)" font-size="42" text-anchor="end">0.30</text>
<text transform="translate(171.5,2388.5) scale(1,1.045)" font-size="42" text-anchor="end">0.25</text>
<text transform="translate(171.5,2540.2) scale(1,1.045)" font-size="42" text-anchor="end">0.20</text>
<text transform="translate(277.4,2595.6) scale(1,1.045)" font-size="42" text-anchor="middle">0</text>
<text transform="translate(534.8,2595.6) scale(1,1.045)" font-size="42" text-anchor="middle">7</text>
<text transform="translate(792.2,2595.6) scale(1,1.045)" font-size="42" text-anchor="middle">14</text>
<text transform="translate(1049.6,2595.6) scale(1,1.045)" font-size="42" text-anchor="middle">21</text>
<text transform="translate(1307,2595.6) scale(1,1.045)" font-size="42" text-anchor="middle">28</text>
<text transform="translate(42.9,2146.3) rotate(-90) scale(1,1.04)" font-size="42.65" text-anchor="middle">Prostate gland (mm)</text>
<text transform="translate(-0.5,1772) scale(1,1)" font-size="52" text-anchor="start">(c)</text>
<path fill="none" stroke="#000" stroke-width="4.4" stroke-linecap="round" stroke-linejoin="round" d="M277.4 2468.2L534.8 2360.8L792.2 2411.8L1049.6 2341L1307 2341"/>
<path fill="none" stroke="#000" stroke-width="4.4" stroke-linecap="round" d="M277.4 2441.7V2494.6M261.8 2441.7H293M261.8 2494.6H293M534.8 2322V2400M519.2 2322H550.4M519.2 2400H550.4M792.2 2383V2440.9M776.6 2383H807.8M776.6 2440.9H807.8M1049.6 2316.3V2366.5M1034 2316.3H1065.2M1034 2366.5H1065.2M1307 2302V2380.4M1291.4 2302H1322.6M1291.4 2380.4H1322.6"/>
<circle cx="277.4" cy="2468.2" r="15"/>
<circle cx="534.8" cy="2360.8" r="15"/>
<circle cx="792.2" cy="2411.8" r="15"/>
<circle cx="1049.6" cy="2341" r="15"/>
<circle cx="1307" cy="2341" r="15"/>
<path fill="none" stroke="#000" stroke-width="4.4" stroke-linecap="round" stroke-linejoin="round" d="M277.4 2468.2h0M291.5 2465.47h0M305.6 2462.73h0M319.7 2460h0M333.8 2457.27h0M347.9 2454.53h0M362 2451.8h0M376.1 2449.07h0M390.2 2446.33h0M404.3 2443.6h0M418.4 2440.87h0M432.5 2438.13h0M446.6 2435.4h0M460.7 2432.67h0M474.8 2429.93h0M488.9 2427.2h0M503 2424.46h0M517.1 2421.73h0M531.2 2419h0M545.3 2415.21h0M559.4 2411.07h0M573.5 2406.92h0M587.6 2402.77h0M601.7 2398.63h0M615.8 2394.48h0M629.9 2390.33h0M644 2386.18h0M658.1 2382.04h0M672.2 2377.89h0M686.3 2373.74h0M700.4 2369.6h0M714.5 2365.45h0M728.6 2361.3h0M742.7 2357.16h0M756.8 2353.01h0M770.9 2348.86h0M785 2344.72h0M799.1 2340.85h0M813.2 2337.26h0M827.3 2333.68h0M841.4 2330.1h0M855.5 2326.52h0M869.6 2322.93h0M883.7 2319.35h0M897.8 2315.77h0M911.9 2312.19h0M926 2308.6h0M940.1 2305.02h0M954.2 2301.44h0M968.3 2297.86h0M982.4 2294.27h0M996.5 2290.69h0M1010.6 2287.11h0M1024.7 2283.53h0M1038.8 2279.94h0M1052.9 2276.4h0M1067 2272.96h0M1081.1 2269.53h0M1095.2 2266.09h0M1109.3 2262.66h0M1123.4 2259.22h0M1137.5 2255.79h0M1151.6 2252.35h0M1165.7 2248.92h0M1179.8 2245.48h0M1193.9 2242.05h0M1208 2238.62h0M1222.1 2235.18h0M1236.2 2231.75h0M1250.3 2228.31h0M1264.4 2224.88h0M1278.5 2221.44h0M1292.6 2218.01h0M1306.7 2214.57h0"/>
<path fill="none" stroke="#000" stroke-width="4.4" stroke-linecap="round" d="M277.4 2441.7V2494.6M261.8 2441.7H293M261.8 2494.6H293M534.8 2368.4V2468.7M519.2 2368.4H550.4M519.2 2468.7H550.4M792.2 2297.5V2388.6M776.6 2297.5H807.8M776.6 2388.6H807.8M1049.6 2238.3V2316.3M1034 2238.3H1065.2M1034 2316.3H1065.2M1307 2158.6V2269.9M1291.4 2158.6H1322.6M1291.4 2269.9H1322.6"/>
<circle cx="277.4" cy="2468.2" r="13" fill="#fff" stroke="#000" stroke-width="4.5"/>
<circle cx="534.8" cy="2418.3" r="13" fill="#fff" stroke="#000" stroke-width="4.5"/>
<circle cx="792.2" cy="2342.6" r="13" fill="#fff" stroke="#000" stroke-width="4.5"/>
<circle cx="1049.6" cy="2277.2" r="13" fill="#fff" stroke="#000" stroke-width="4.5"/>
<circle cx="1307" cy="2214.5" r="13" fill="#fff" stroke="#000" stroke-width="4.5"/>
<path fill="none" stroke="#000" stroke-width="4.4" stroke-linecap="round" stroke-linejoin="round" d="M277.4 2468.2L305.2 2446.02M318.8 2435.16L346.6 2412.98M360.2 2402.13L388 2379.94M401.6 2369.09L429.4 2346.91M443 2336.05L470.8 2313.87M484.4 2303.02L512.2 2280.83M525.8 2269.98L534.8 2262.8L553.6 2259.71M567.2 2257.48L595 2252.91M608.6 2250.67L636.4 2246.1M650 2243.87L677.8 2239.3M691.4 2237.07L719.2 2232.5M732.8 2230.26L760.6 2225.69M774.2 2223.46L792.2 2220.5L802 2217.89M815.6 2214.27L843.4 2206.87M857 2203.26L884.8 2195.86M898.4 2192.24L926.2 2184.84M939.8 2181.22L967.6 2173.82M981.2 2170.2L1009 2162.8M1022.6 2159.19L1049.6 2152L1050.4 2151.85M1064 2149.37L1091.8 2144.29M1105.4 2141.81L1133.2 2136.74M1146.8 2134.25L1174.6 2129.18M1188.2 2126.69L1216 2121.62M1229.6 2119.13L1257.4 2114.06M1271 2111.57L1298.8 2106.5"/>
<path fill="none" stroke="#000" stroke-width="4.4" stroke-linecap="round" d="M277.4 2441.7V2494.6M261.8 2441.7H293M261.8 2494.6H293M534.8 2227.3V2299M519.2 2227.3H550.4M519.2 2299H550.4M792.2 2167.2V2276.1M776.6 2167.2H807.8M776.6 2276.1H807.8M1049.6 2086.3V2217.9M1034 2086.3H1065.2M1034 2217.9H1065.2M1307 2052.6V2159.1M1291.4 2052.6H1322.6M1291.4 2159.1H1322.6"/>
<path d="M264.1 2460.52H290.7L277.4 2483.56Z" stroke="#000" stroke-width="4.5" stroke-linejoin="round"/>
<path d="M521.5 2255.12H548.1L534.8 2278.16Z" stroke="#000" stroke-width="4.5" stroke-linejoin="round"/>
<path d="M778.9 2212.82H805.5L792.2 2235.86Z" stroke="#000" stroke-width="4.5" stroke-linejoin="round"/>
<path d="M1036.3 2144.32H1062.9L1049.6 2167.36Z" stroke="#000" stroke-width="4.5" stroke-linejoin="round"/>
<path d="M1293.7 2097.32H1320.3L1307 2120.36Z" stroke="#000" stroke-width="4.5" stroke-linejoin="round"/>
<path fill="none" stroke="#000" stroke-width="4.4" stroke-linecap="round" stroke-linejoin="round" d="M277.4 2468.2L313.6 2446.71M327.8 2438.28h0M342 2429.85h0M356.2 2421.42L392.4 2399.93M406.6 2391.5h0M420.8 2383.07h0M435 2374.64L471.2 2353.15M485.4 2344.73h0M499.6 2336.3h0M513.8 2327.87L534.8 2315.4L550 2307.14M564.2 2299.42h0M578.4 2291.7h0M592.6 2283.99L628.8 2264.31M643 2256.59h0M657.2 2248.87h0M671.4 2241.16L707.6 2221.48M721.8 2213.76h0M736 2206.05h0M750.2 2198.33L786.4 2178.65M800.6 2173.89h0M814.8 2171.17h0M829 2168.45L865.2 2161.52M879.4 2158.8h0M893.6 2156.08h0M907.8 2153.36L944 2146.43M958.2 2143.71h0M972.4 2140.99h0M986.6 2138.27L1022.8 2131.33M1037 2128.61h0M1051.2 2125.28h0M1065.4 2117.09L1101.6 2096.22M1115.8 2088.03h0M1130 2079.85h0M1144.2 2071.66L1180.4 2050.79M1194.6 2042.6h0M1208.8 2034.42h0M1223 2026.23L1259.2 2005.36M1273.4 1997.17h0M1287.6 1988.98h0M1301.8 1980.8L1307 1977.8"/>
<path fill="none" stroke="#000" stroke-width="4.4" stroke-linecap="round" d="M277.4 2441.7V2494.6M261.8 2441.7H293M261.8 2494.6H293M534.8 2261.5V2368.4M519.2 2261.5H550.4M519.2 2368.4H550.4M792.2 2140.4V2208.7M776.6 2140.4H807.8M776.6 2208.7H807.8M1049.6 2080.6V2171M1034 2080.6H1065.2M1034 2171H1065.2M1307 1921V2034.1M1291.4 1921H1322.6M1291.4 2034.1H1322.6"/>
<path d="M264.1 2475.88H290.7L277.4 2452.84Z" fill="#fff" stroke="#000" stroke-width="4.5" stroke-linejoin="round"/>
<path d="M521.5 2323.08H548.1L534.8 2300.04Z" fill="#fff" stroke="#000" stroke-width="4.5" stroke-linejoin="round"/>
<path d="M778.9 2183.18H805.5L792.2 2160.14Z" fill="#fff" stroke="#000" stroke-width="4.5" stroke-linejoin="round"/>
<path d="M1036.3 2133.88H1062.9L1049.6 2110.84Z" fill="#fff" stroke="#000" stroke-width="4.5" stroke-linejoin="round"/>
<path d="M1293.7 1985.48H1320.3L1307 1962.44Z" fill="#fff" stroke="#000" stroke-width="4.5" stroke-linejoin="round"/>
<path fill="none" stroke="#000" stroke-width="4.4" stroke-linecap="round" stroke-linejoin="round" d="M277.4 2468.2L332.3 2413.88M355.58 2390.84L410.48 2336.52M433.76 2313.48L488.66 2259.16M511.94 2236.12L534.8 2213.5L566.84 2195.05M590.12 2181.65L645.02 2150.04M668.3 2136.64L723.2 2105.03M746.48 2091.62L792.2 2065.3L801.38 2061.94M824.66 2053.43L879.56 2033.36M902.84 2024.85L957.74 2004.78M981.02 1996.27L1035.92 1976.2M1059.2 1969.79L1114.1 1961.73M1137.38 1958.31L1192.28 1950.25M1215.56 1946.83L1270.46 1938.77M1293.74 1935.35L1307 1933.4"/>
<path fill="none" stroke="#000" stroke-width="4.4" stroke-linecap="round" d="M277.4 2441.7V2494.6M261.8 2441.7H293M261.8 2494.6H293M534.8 2161.7V2264.8M519.2 2161.7H550.4M519.2 2264.8H550.4M792.2 2024.5V2105.9M776.6 2024.5H807.8M776.6 2105.9H807.8M1049.6 1909.6V2032.9M1034 1909.6H1065.2M1034 2032.9H1065.2M1307 1886.2V1980.7M1291.4 1886.2H1322.6M1291.4 1980.7H1322.6"/>
<rect x="263.9" y="2454.7" width="27" height="27" rx="2.2"/>
<rect x="521.3" y="2200" width="27" height="27" rx="2.2"/>
<rect x="778.7" y="2051.8" width="27" height="27" rx="2.2"/>
<rect x="1036.1" y="1957.7" width="27" height="27" rx="2.2"/>
<rect x="1293.5" y="1919.9" width="27" height="27" rx="2.2"/>
<text transform="translate(501.84,2151.68) scale(1,0.916)" font-size="53.6" stroke="#000" stroke-width="1.0" stroke-linejoin="miter">*</text>
<text transform="translate(538.81,2139.9) scale(1,1.04)" font-size="42.5" text-anchor="start">B</text>
<text transform="translate(562.51,2245.6) scale(1,1.04)" font-size="42.5" text-anchor="start">AB</text>
<text transform="translate(562.91,2309.4) scale(1,1.04)" font-size="42.5" text-anchor="start">AB</text>
<text transform="translate(559.62,2361) scale(1,1.04)" font-size="42.5" text-anchor="start">AB</text>
<text transform="translate(544.71,2463.3) scale(1,1.04)" font-size="42.5" text-anchor="start">A</text>
<text transform="translate(756.54,2016.58) scale(1,0.916)" font-size="53.6" stroke="#000" stroke-width="1.0" stroke-linejoin="miter">*</text>
<text transform="translate(793.64,2002.9) scale(1,1.04)" font-size="42.5" text-anchor="start">C</text>
<text transform="translate(715.34,2173.08) scale(1,0.916)" font-size="53.6" stroke="#000" stroke-width="1.0" stroke-linejoin="miter">*</text>
<text transform="translate(745.94,2159) scale(1,1.04)" font-size="42.5" text-anchor="start">C</text>
<text transform="translate(807.81,2268.4) scale(1,1.04)" font-size="42.5" text-anchor="start">BC</text>
<text transform="translate(871.84,2282.38) scale(1,0.916)" font-size="53.6" stroke="#000" stroke-width="1.0" stroke-linejoin="miter">*</text>
<text transform="translate(719.21,2339.3) scale(1,1.04)" font-size="42.5" text-anchor="start">AB</text>
<text transform="translate(778.21,2485.6) scale(1,1.04)" font-size="42.5" text-anchor="start">A</text>
<text transform="translate(1021.84,1904.38) scale(1,0.916)" font-size="53.6" stroke="#000" stroke-width="1.0" stroke-linejoin="miter">*</text>
<text transform="translate(1058.34,1890.6) scale(1,1.04)" font-size="42.5" text-anchor="start">C</text>
<text transform="translate(1015.24,2083.58) scale(1,0.916)" font-size="53.6" stroke="#000" stroke-width="1.0" stroke-linejoin="miter">*</text>
<text transform="translate(1048.02,2072.4) scale(1,1.04)" font-size="42.5" text-anchor="start">BC</text>
<text transform="translate(1068.32,2194.4) scale(1,1.04)" font-size="42.5" text-anchor="start">ABC</text>
<text transform="translate(1159.04,2205.18) scale(1,0.916)" font-size="53.6" stroke="#000" stroke-width="1.0" stroke-linejoin="miter">*</text>
<text transform="translate(974.31,2264.7) scale(1,1.04)" font-size="42.5" text-anchor="start">AB</text>
<text transform="translate(1033.21,2418) scale(1,1.04)" font-size="42.5" text-anchor="start">A</text>
<text transform="translate(1273.64,1878.78) scale(1,0.916)" font-size="53.6" stroke="#000" stroke-width="1.0" stroke-linejoin="miter">*</text>
<text transform="translate(1307.94,1868.2) scale(1,1.04)" font-size="42.5" text-anchor="start">C</text>
<text transform="translate(1253.44,1994.9) scale(1,1.04)" font-size="42.5" text-anchor="start">C</text>
<text transform="translate(1330.84,2003.78) scale(1,0.916)" font-size="53.6" stroke="#000" stroke-width="1.0" stroke-linejoin="miter">*</text>
<text transform="translate(1232.82,2101.6) scale(1,1.04)" font-size="42.5" text-anchor="start">BC</text>
<text transform="translate(1328.04,2125.18) scale(1,0.916)" font-size="53.6" stroke="#000" stroke-width="1.0" stroke-linejoin="miter">*</text>
<text transform="translate(1232.82,2219.7) scale(1,1.04)" font-size="42.5" text-anchor="start">AB</text>
<text transform="translate(1328.44,2238.08) scale(1,0.916)" font-size="53.6" stroke="#000" stroke-width="1.0" stroke-linejoin="miter">*</text>
<text transform="translate(1288.41,2434) scale(1,1.04)" font-size="42.5" text-anchor="start">A</text>
<text transform="translate(792.1,2681.7) scale(1,1.04)" font-size="42.5" text-anchor="middle">Days after treatment</text>
</svg></body></html>
